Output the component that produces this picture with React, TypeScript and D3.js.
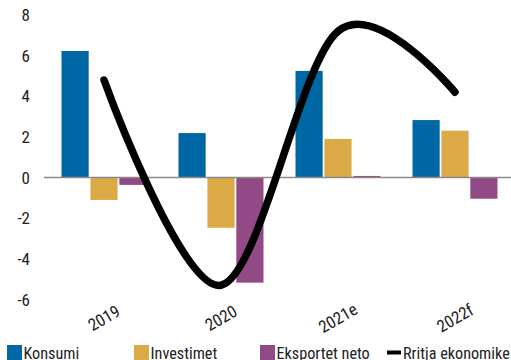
import React from "react";
import * as d3 from "d3";

const categories = ["2019", "2020", "2021e", "2022f"];
const seriesNames = ["Konsumi", "Investimet", "Eksportet neto"];
const konsumi = [6.23, 2.19, 5.25, 2.83];
const investimet = [-1.1, -2.47, 1.9, 2.31];
const eksportet = [-0.36, -5.17, 0.08, -1.04];
const rritja = [4.8, -5.3, 7.2, 4.2];
const yTicks = [8, 6, 4, 2, 0, -2, -4, -6];
const lineName = "Rritja ekonomike";
const title = "Kontributi në rritjen ekonomike, pikë përqindjeje";

const colors = ["#0067a5", "#dba945", "#924a86"];
const FONT = "'Liberation Sans Narrow', 'Roboto Condensed', 'Liberation Sans', Arial, sans-serif";

export default function App() {
  const W = 511;
  const H = 360;
  const x0 = d3.scaleBand().domain(categories).range([45.5, 513.5]).paddingInner(0.2735).paddingOuter(0.1368);
  const x1 = d3.scaleBand().domain(seriesNames).range([0, x0.bandwidth()]).paddingInner(0.06);
  const y = d3.scaleLinear().domain([-6, 8]).range([299.5, 15]);
  const values = [konsumi, investimet, eksportet];

  const linePts: [number, number][] = categories.map((c, i) => [
    (x0(c) as number) + x0.bandwidth() / 2,
    y(rritja[i]),
  ]);
  const lineGen = d3.line().curve(d3.curveCardinal.tension(0));
  const path = lineGen(linePts) || "";

  const legendItems = [
    { name: seriesNames[0], x: 7, color: colors[0] },
    { name: seriesNames[1], x: 134, color: colors[1] },
    { name: seriesNames[2], x: 260, color: colors[2] },
  ];

  return (
    <svg
      width={W}
      height={H}
      style={{ position: "absolute", left: 0, top: 0, background: "#fff" }}
      fontFamily={FONT}
    >
      <text x={270} y={-3} textAnchor="middle" fontSize={16.5} fill="#222">
        {title}
      </text>
      {yTicks.map((t) => (
        <text key={t} x={30} y={y(t)} textAnchor="end" dominantBaseline="central" fontSize={17} fill="#222">
          {t}
        </text>
      ))}
      {categories.map((c, i) => (
        <g key={c}>
          {values.map((vals, s) => {
            const v = vals[i];
            const bx = (x0(c) as number) + (x1(seriesNames[s]) as number);
            return (
              <rect
                key={s}
                x={bx}
                y={Math.min(y(v), y(0))}
                width={x1.bandwidth()}
                height={Math.abs(y(v) - y(0))}
                fill={colors[s]}
              />
            );
          })}
        </g>
      ))}
      <line x1={44} x2={W} y1={y(0)} y2={y(0)} stroke="#8a8a8a" strokeWidth={1.5} />
      <path d={path} fill="none" stroke="#000" strokeWidth={7.5} strokeLinecap="round" strokeLinejoin="round" />
      {categories.map((c) => {
        const cx = (x0(c) as number) + x0.bandwidth() / 2;
        return (
          <text
            key={c}
            transform={`translate(${cx},${318}) rotate(-30)`}
            textAnchor="middle"
            dominantBaseline="central"
            fontSize={17}
            fill="#222"
          >
            {c}
          </text>
        );
      })}
      {legendItems.map((it) => (
        <g key={it.name}>
          <rect x={it.x} y={345} width={15} height={15} fill={it.color} />
          <text x={it.x + 16.5} y={359} fontSize={16.2} fill="#222">
            {it.name}
          </text>
        </g>
      ))}
      <line x1={387} x2={401} y1={352.5} y2={352.5} stroke="#000" strokeWidth={4} />
      <text x={403} y={359} fontSize={16.2} fill="#222">
        {lineName}
      </text>
    </svg>
  );
}
